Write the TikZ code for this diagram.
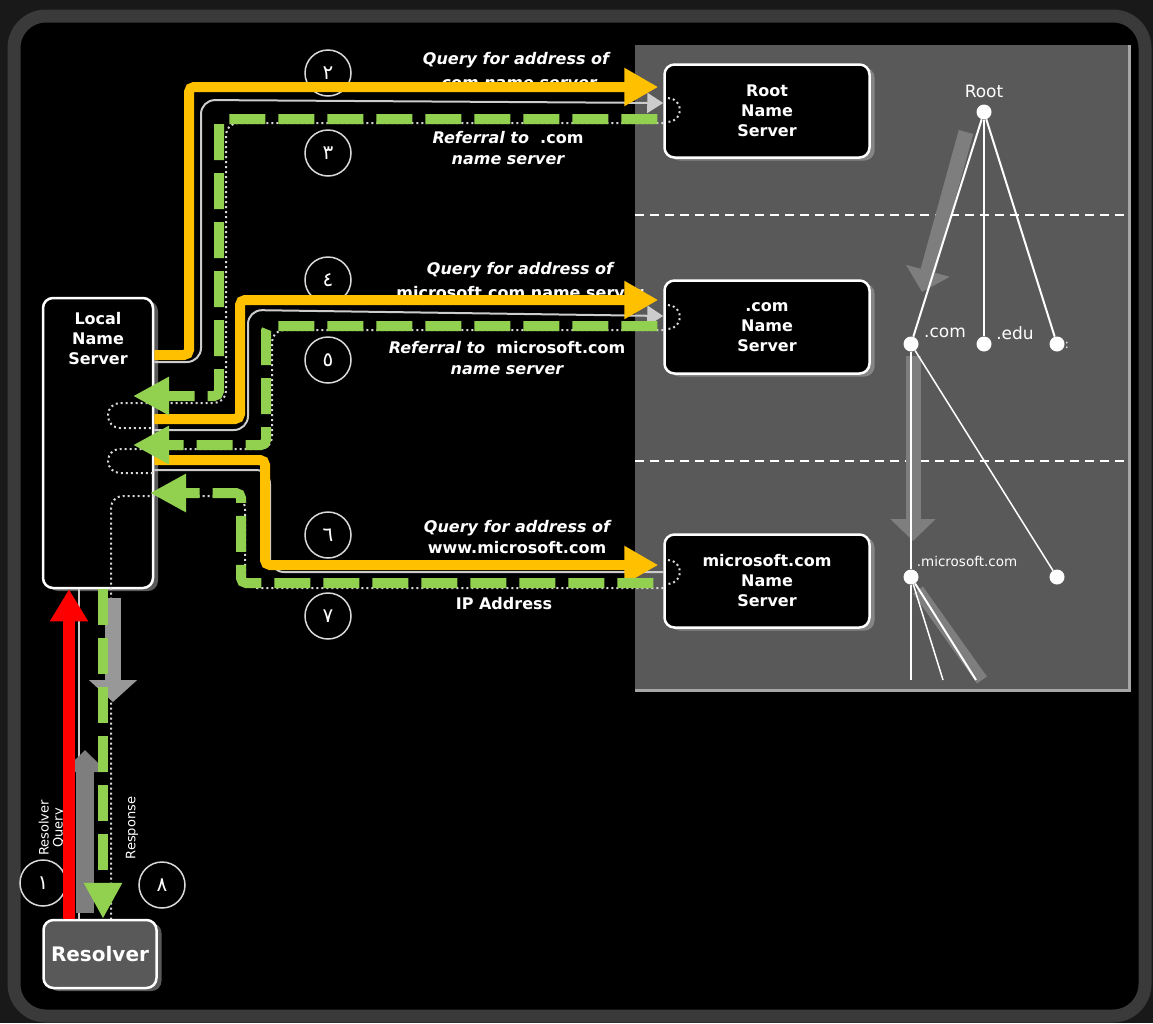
\documentclass[tikz,border=0pt]{standalone}
\usepackage{fontspec}
\setmainfont{DejaVu Sans}
\newfontfamily\arabicfont[Script=Arabic]{DejaVu Sans}
\TeXXeTstate=1
\usetikzlibrary{arrows.meta, positioning, shadows}

\definecolor{qyellow}{HTML}{FFC000}
\definecolor{rgreen}{HTML}{92D050}
\definecolor{panelgray}{HTML}{595959}
\definecolor{framegray}{HTML}{3A3A3A}
\definecolor{arrowgray}{HTML}{7E7E7E}

\begin{document}
\begin{tikzpicture}[x=1pt, y=-1pt]
  \tikzstyle{srv} = [draw=white, line width=2.5pt, fill=black, rounded corners=10pt, minimum width=205pt, minimum height=93pt, align=center, text=white, font=\fontsize{16}{20}\selectfont\bfseries, drop shadow={shadow xshift=5pt, shadow yshift=-3pt, fill=white!70!black, opacity=.5}]
  \tikzstyle{num} = [draw=white!85!black, circle, line width=1.5pt, minimum size=46pt, inner sep=0pt, text=white, font=\arabicfont\fontsize{20}{20}\selectfont]
  \tikzstyle{lbl} = [text=white, align=center, font=\fontsize{16}{21}\selectfont\bfseries\itshape]
  \tikzstyle{dot} = [circle, fill=white, inner sep=0pt, minimum size=15pt]
  \tikzstyle{tlbl} = [text=white, font=\fontsize{17}{17}\selectfont]
  \tikzstyle{rot} = [rotate=90, text=white, align=center, font=\fontsize{13}{14}\selectfont]
  \tikzstyle{qry} = [qyellow, line width=10pt, rounded corners=5pt, shorten >=5pt, -{Triangle[length=34pt, width=36pt]}]
  \tikzstyle{ref} = [rgreen, line width=10pt, dash pattern=on 36pt off 13pt, rounded corners=5pt, -{Triangle[length=36pt, width=36pt]}]
  \tikzstyle{wline} = [white!80!black, line width=2pt, rounded corners=14pt]
  \tikzstyle{dline} = [white!85!black, line width=2pt, dash pattern=on 2pt off 3pt, rounded corners=12pt]
  \tikzstyle{garrow} = [arrowgray, line width=15pt, -{Triangle[length=22pt, width=44pt]}]

  \useasboundingbox (0,0) rectangle (1153,1023);
  \fill[black!90] (0,0) rectangle (1153,1023);
  \draw[framegray, line width=13pt, fill=black, rounded corners=32pt] (14,16) rectangle (1145,1016);

  % name space panel
  \fill[panelgray] (635,45) rectangle (1130,690);
  \draw[white!65!black, line width=3pt] (1129,45) -- (1129,690) -- (635,690);
  \draw[white, line width=1.5pt, dash pattern=on 9pt off 6pt] (635,215) -- (1127,215);
  \draw[white, line width=1.5pt, dash pattern=on 9pt off 6pt] (635,461) -- (1127,461);

  % tree
  \node[dot] (troot) at (984,112) {};
  \node[dot] (tcom) at (911,344) {};
  \node[dot] (tedu) at (984,344) {};
  \node[dot] (tnet) at (1057,344) {};
  \node[dot] (tms) at (911,577) {};
  \node[dot] (tright) at (1057,577) {};
  \coordinate (b1) at (911,680);
  \coordinate (b2) at (943,680);
  \coordinate (b3) at (976,680);
  \draw[garrow] (966,132) -- (922,292);
  \draw[garrow] (913,356) -- (913,541);
  \draw[arrowgray, line width=12pt] (918,590) -- (982,680);
  \draw[white, line width=2pt] (troot) -- (tcom);
  \draw[white, line width=2pt] (troot) -- (tedu);
  \draw[white, line width=2pt] (troot) -- (tnet);
  \draw[white, line width=2pt] (tcom) -- (tms) -- (b1);
  \draw[white, line width=1.5pt] (tcom) -- (tright);
  \draw[white, line width=1.5pt] (tms) -- (b2);
  \draw[white, line width=2pt] (tms) -- (b3);
  \node[tlbl] at (984,91) {Root};
  \node[tlbl] at (945,333) {.com};
  \node[tlbl] at (1015,333) {.edu};
  \node[tlbl, font=\fontsize{12}{12}\selectfont] at (1067,345) {:};
  \node[tlbl, font=\fontsize{13.5}{13.5}\selectfont] at (967,561) {.microsoft.com};

  % servers
  \node[srv] (root) at (767,111) {Root\\Name\\Server};
  \node[srv] (com) at (767,327) {.com\\Name\\Server};
  \node[srv] (msft) at (767,581) {microsoft.com\\Name\\Server};
  \node[srv, minimum width=110pt, minimum height=290pt] (lns) at (98,443) {};
  \node[text=white, align=center, font=\fontsize{16}{20}\selectfont\bfseries, below=12pt of lns.north] {Local\\Name\\Server};
  \node[srv, fill=black!65, minimum width=113pt, minimum height=68pt, font=\fontsize{20}{20}\selectfont\bfseries] (resolver) at (100,954) {Resolver};

  % original paths
  \draw[wline, -{Triangle[length=16pt, width=20pt]}] (lns.east |- 0,362) -| (201,100) -- (root.west |- 0,103);
  \draw[wline, -{Triangle[length=16pt, width=20pt]}] (lns.east |- 0,430) -| (248,310) -- (com.west |- 0,316);
  \draw[wline] (lns.east |- 0,470) -| (270,572) -- (msft.west |- 0,572);
  \draw[dline] (root.west |- 0,123) -| (226,403) -- (108,403) -- (108,428) -- (153,428);
  \draw[dline] (com.west |- 0,330) -| (272,449) -- (108,449) -- (108,473) -- (153,473);
  \draw[dline] (msft.west |- 0,588) -| (245,496) -- (111,496) -- (resolver.north -| 111,0);
  \draw[dline] (668,98) arc[start angle=-90, end angle=90, radius=12];
  \draw[dline] (668,305) arc[start angle=-90, end angle=90, radius=12];
  \draw[dline] (668,560) arc[start angle=-90, end angle=90, radius=12];
  \draw[wline] (lns.south -| 79,0) -- (resolver.north -| 79,0);
  \draw[arrowgray!80!white, line width=16pt, -{Triangle[length=22pt, width=47pt]}] (113,598) -- (113,702);
  \draw[arrowgray, line width=18pt, -{Triangle[length=22pt, width=43pt]}] (85,913) -- (85,750);

  % labels
  \node[lbl, font=\fontsize{16}{24}\selectfont\bfseries\itshape] (q2) at (516,71) {Query for address of\\.com name server};
  \node[lbl] (r3) at (508,148) {Referral to \ {\upshape .com}\\name server};
  \node[lbl, font=\fontsize{16}{24}\selectfont\bfseries\itshape] (q4) at (520,281) {Query for address of\\{\upshape microsoft.com name server}};
  \node[lbl] (r5) at (507,358) {Referral to \ {\upshape microsoft.com}\\name server};
  \node[lbl] (q6) at (517,537) {Query for address of\\{\upshape www.microsoft.com}};
  \node[lbl, font=\fontsize{16}{16}\selectfont\bfseries] (a7) at (504,604) {IP Address};
  \node[rot] (rq) at (52,828) {Resolver\\Query};
  \node[rot] (rs) at (132,828) {Response};

  % steps
  \node[num] (n1) at (43,883) {\beginR ١\endR};
  \node[num] (n2) at (328,73) {\beginR ٢\endR};
  \node[num] (n3) at (328,153) {\beginR ٣\endR};
  \node[num] (n4) at (328,280) {\beginR ٤\endR};
  \node[num] (n5) at (328,360) {\beginR ٥\endR};
  \node[num] (n6) at (328,535) {\beginR ٦\endR};
  \node[num] (n7) at (328,616) {\beginR ٧\endR};
  \node[num] (n8) at (162,885) {\beginR ٨\endR};

  % queries and referrals
  \coordinate (p1) at (133,396);
  \coordinate (p2) at (133,445);
  \coordinate (p3) at (150,493);
  \draw[qry] (lns.east |- 0,355) -| (189,87) -- (root.west |- 0,87);
  \draw[qry] (lns.east |- 0,419) -| (240,300) -- (com.west |- 0,300);
  \draw[qry] (lns.east |- 0,460) -| (265,565) -- (msft.west |- 0,565);
  \draw[ref, shorten <=6pt] (root.west |- 0,119) -| (219,396) -- (p1);
  \draw[ref, shorten <=6pt] (com.west |- 0,326) -| (266,445) -- (p2);
  \draw[ref, shorten <=10pt] (msft.west |- 0,583) -| (241,493) -- (p3);
  \draw[ref] (lns.south -| 103,0) -- (resolver.north -| 103,0);
  \draw[red, line width=12pt, -{Triangle[length=32pt, width=36pt]}] (resolver.north -| 69,0) -- (lns.south -| 69,0);
\end{tikzpicture}
\end{document}
